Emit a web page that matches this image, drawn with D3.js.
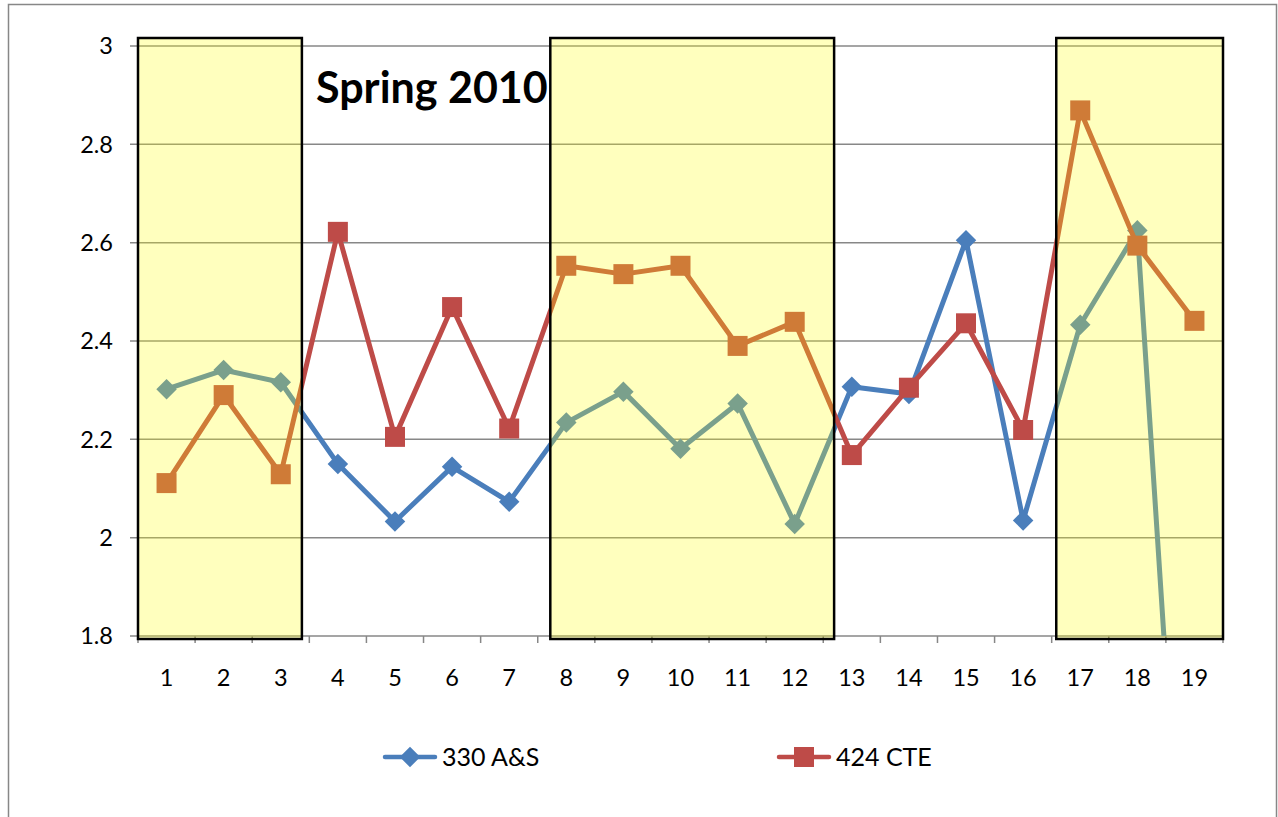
<!DOCTYPE html>
<html>
<head>
<meta charset="utf-8">
<script src="https://cdn.jsdelivr.net/npm/d3@7.9.0/dist/d3.min.js"></script>
<style>
  body { margin: 0; background: #fff; }
  svg { display: block; font-family: Lato, "Open Sans", sans-serif; }
</style>
</head>
<body>
<svg id="chart" width="1278" height="817"></svg>
<script>
// data
const categories = [1, 2, 3, 4, 5, 6, 7, 8, 9, 10, 11, 12, 13, 14, 15, 16, 17, 18, 19];
const yTicks = [1.8, 2, 2.2, 2.4, 2.6, 2.8, 3];
const seriesNames = ['330 A&S', '424 CTE'];
const valuesAS = [2.302, 2.341, 2.316, 2.150, 2.033, 2.144, 2.073, 2.234, 2.297, 2.181,
  2.273, 2.028, 2.307, 2.292, 2.605, 2.035, 2.433, 2.625, 0.85];
const valuesCTE = [2.111, 2.290, 2.129, 2.622, 2.205, 2.469, 2.222, 2.553, 2.536, 2.553,
  2.390, 2.439, 2.168, 2.305, 2.436, 2.219, 2.869, 2.594, 2.441];
// highlighted spans, in category units
const highlightRanges = [[0.5, 3.37], [7.72, 12.69], [16.58, 19.5]];
const title = 'Spring 2010';

const colors = ['#4a7ebb', '#be4b48'];
const svg = d3.select('#chart');

const plot = { left: 138, right: 1223, top: 46, bottom: 636 };
const x = d3.scaleLinear().domain([0.5, categories.length + 0.5]).range([plot.left, plot.right]);
const y = d3.scaleLinear().domain([1.8, 3]).range([plot.bottom, plot.top]);

// outer chart border
svg.append('rect')
  .attr('x', 8.5).attr('y', 4.5).attr('width', 1268).attr('height', 840)
  .attr('fill', 'none').attr('stroke', '#878787').attr('stroke-width', 1.5);

svg.append('defs').append('clipPath').attr('id', 'plotclip')
  .append('rect')
  .attr('x', plot.left).attr('y', 0)
  .attr('width', plot.right - plot.left).attr('height', plot.bottom);

// gridlines + y labels
svg.append('g')
  .selectAll('line')
  .data(yTicks)
  .join('line')
  .attr('x1', plot.left - 8).attr('x2', plot.right)
  .attr('y1', (d) => y(d)).attr('y2', (d) => y(d))
  .attr('stroke', '#878787').attr('stroke-width', 1.5);

svg.append('g')
  .selectAll('text')
  .data(yTicks)
  .join('text')
  .attr('x', 113).attr('y', (d) => y(d)).attr('dy', '0.36em')
  .attr('text-anchor', 'end')
  .attr('font-size', 23.5).attr('fill', '#000')
  .text((d) => d3.format('~g')(d));

// axes lines and ticks
svg.append('line')
  .attr('x1', plot.left).attr('x2', plot.left)
  .attr('y1', plot.top).attr('y2', plot.bottom)
  .attr('stroke', '#878787').attr('stroke-width', 1.5);

svg.append('g')
  .selectAll('line')
  .data(d3.range(categories.length + 1))
  .join('line')
  .attr('x1', (i) => x(i + 0.5)).attr('x2', (i) => x(i + 0.5))
  .attr('y1', plot.bottom).attr('y2', plot.bottom + 7)
  .attr('stroke', '#878787').attr('stroke-width', 1.5);

svg.append('g')
  .selectAll('text')
  .data(categories)
  .join('text')
  .attr('x', (d) => x(d)).attr('y', 686)
  .attr('text-anchor', 'middle')
  .attr('font-size', 23.5).attr('fill', '#000')
  .text((d) => d);

// series
const diamond = d3.symbol(d3.symbolSquare, 14.5 * 14.5);
const square = d3.symbol(d3.symbolSquare, 20 * 20);
const line = d3.line()
  .x((d, i) => x(categories[i]))
  .y((d) => y(d));

const marks = svg.append('g').attr('clip-path', 'url(#plotclip)');

[valuesAS, valuesCTE].forEach((values, s) => {
  marks.append('path')
    .attr('d', line(values))
    .attr('fill', 'none')
    .attr('stroke', colors[s])
    .attr('stroke-width', 5)
    .attr('stroke-linejoin', 'round');

  marks.append('g')
    .selectAll('path')
    .data(values)
    .join('path')
    .attr('d', s === 0 ? diamond : square)
    .attr('transform', (d, i) =>
      `translate(${x(categories[i])},${y(d)})` + (s === 0 ? ' rotate(45)' : ''))
    .attr('fill', colors[s]);
});

// yellow highlight boxes, laid over everything
svg.append('g')
  .selectAll('rect')
  .data(highlightRanges)
  .join('rect')
  .attr('x', (d) => x(d[0]))
  .attr('width', (d) => x(d[1]) - x(d[0]))
  .attr('y', plot.top - 8)
  .attr('height', plot.bottom - plot.top + 11)
  .attr('fill', 'rgba(255,255,10,0.265)')
  .attr('stroke', '#000')
  .attr('stroke-width', 2.5);

svg.append('text')
  .attr('x', 316).attr('y', 103)
  .attr('font-size', 43).attr('font-weight', 'bold')
  .text(title);

// legend
const legendItems = [
  { x: 385, name: seriesNames[0], shape: diamond, rot: 45 },
  { x: 779, name: seriesNames[1], shape: square, rot: 0 },
];
const legend = svg.append('g');
legendItems.forEach((d, i) => {
  const g = legend.append('g').attr('transform', `translate(${d.x},757)`);
  g.append('line')
    .attr('x1', 0).attr('x2', 50)
    .attr('stroke', colors[i]).attr('stroke-width', 4.5)
    .attr('stroke-linecap', 'round');
  g.append('path')
    .attr('d', d.shape)
    .attr('transform', `translate(25,0) rotate(${d.rot})`)
    .attr('fill', colors[i]);
  g.append('text')
    .attr('x', 57).attr('dy', '0.36em')
    .attr('font-size', 25).attr('fill', '#000')
    .text(d.name);
});
</script>
</body>
</html>
